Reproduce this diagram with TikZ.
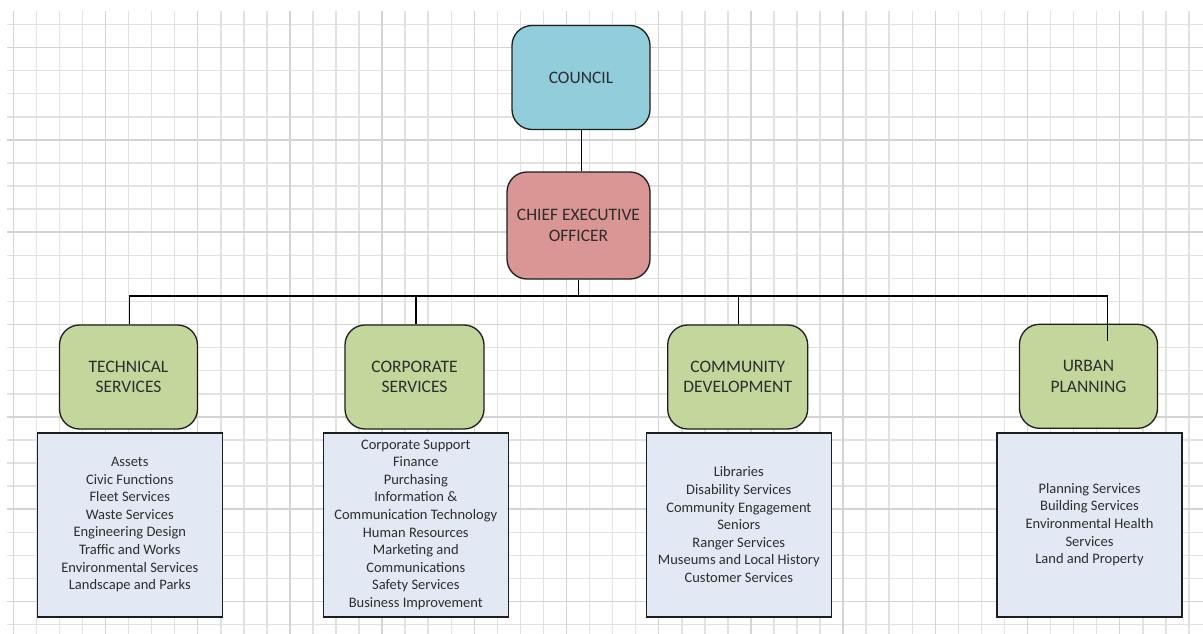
\documentclass[tikz,border=0pt]{standalone}
\usepackage{fontspec}
\setmainfont{Carlito}
\definecolor{gridlight}{RGB}{226,226,226}
\definecolor{griddark}{RGB}{212,212,212}
\definecolor{councilfill}{RGB}{146,205,220}
\definecolor{ceofill}{RGB}{217,150,148}
\definecolor{deptfill}{RGB}{195,214,155}
\definecolor{listfill}{RGB}{226,233,245}
\definecolor{edgecol}{RGB}{30,30,30}
\definecolor{txtcol}{RGB}{45,45,45}
\begin{document}
\begin{tikzpicture}[x=1pt,y=-1pt,
  gridlinelight/.style={draw=gridlight,line width=1.5pt},
  gridlinedark/.style={draw=griddark,line width=1.5pt},
  headbox/.style={draw=edgecol,line width=1.3pt,rounded corners=20pt,
    minimum width=138pt,minimum height=104pt,inner sep=2pt,align=center,
    text=txtcol,font=\fontsize{17.5}{20.5}\selectfont},
  listbox/.style={draw=edgecol,line width=1.6pt,fill=listfill,
    minimum width=185pt,minimum height=184pt,inner sep=2pt,align=center,
    text=txtcol,font=\fontsize{14.5}{17.6}\selectfont},
  conn/.style={draw=black,line width=1.3pt}]
\useasboundingbox (0,0) rectangle (1203,634);
\fill[white] (0,0) rectangle (1203,634);
% grid
\foreach \k in {0,...,51}{
  \pgfmathsetmacro\xx{13.3+23.05*\k}
  \draw[gridlinelight] (\xx,11) -- (\xx,634);}
\foreach \k in {0,...,26}{
  \pgfmathsetmacro\yy{24.5+23.08*\k}
  \draw[gridlinelight] (7,\yy) -- (1203,\yy);}
\foreach \k in {0,4,...,48}{
  \pgfmathsetmacro\xx{13.3+23.05*\k}
  \draw[gridlinedark] (\xx,11) -- (\xx,634);}
\foreach \k in {1,5,...,25}{
  \pgfmathsetmacro\yy{24.5+23.08*\k}
  \draw[gridlinedark] (7,\yy) -- (1203,\yy);}
% top nodes
\node[headbox,fill=councilfill] (council) at (581,77.5) {COUNCIL};
\node[headbox,fill=ceofill,minimum width=143pt,minimum height=107pt] (ceo) at (578.5,225.5) {CHIEF EXECUTIVE\\OFFICER};
% departments
\node[headbox,fill=deptfill] (tech) at (128.5,377) {TECHNICAL\\SERVICES};
\node[headbox,fill=deptfill,minimum width=139pt] (corp) at (414.5,377) {CORPORATE\\SERVICES};
\node[headbox,fill=deptfill,minimum width=140pt] (comm) at (737.7,377) {COMMUNITY\\DEVELOPMENT};
\node[headbox,fill=deptfill] (urban) at (1088.5,376.3) {URBAN\\PLANNING};
% lists
\node[listbox] (techlist) at (129.8,524.7) {Assets\\Civic Functions\\Fleet Services\\Waste Services\\Engineering Design\\Traffic and Works\\Environmental Services\\Landscape and Parks};
\node[listbox] (corplist) at (415.8,524.7) {Corporate Support\\Finance\\Purchasing\\Information \&\\Communication Technology\\Human Resources\\Marketing and\\Communications\\Safety Services\\Business Improvement};
\node[listbox] (commlist) at (738.8,524.7) {Libraries\\Disability Services\\Community Engagement\\Seniors\\Ranger Services\\Museums and Local History\\Customer Services};
\node[listbox] (urbanlist) at (1089.5,524.7) {Planning Services\\Building Services\\Environmental Health\\Services\\Land and Property};
% connectors
\coordinate (bus) at (0,296);
\coordinate (urbanend) at (1107.3,341);
\draw[conn] (council.south -| 581.7,0) -- (ceo.north -| 581.7,0);
\draw[conn] (ceo.south) -- (ceo.south |- bus);
\draw[conn] (tech.north -| 129.3,0) -- (bus -| 129.3,0) -- (bus -| urbanend) -- (urbanend);
\draw[conn] (corp.north -| 416,0) -- (bus -| 416,0);
\draw[conn] (comm.north -| 738.3,0) -- (bus -| 738.3,0);
\end{tikzpicture}
\end{document}
